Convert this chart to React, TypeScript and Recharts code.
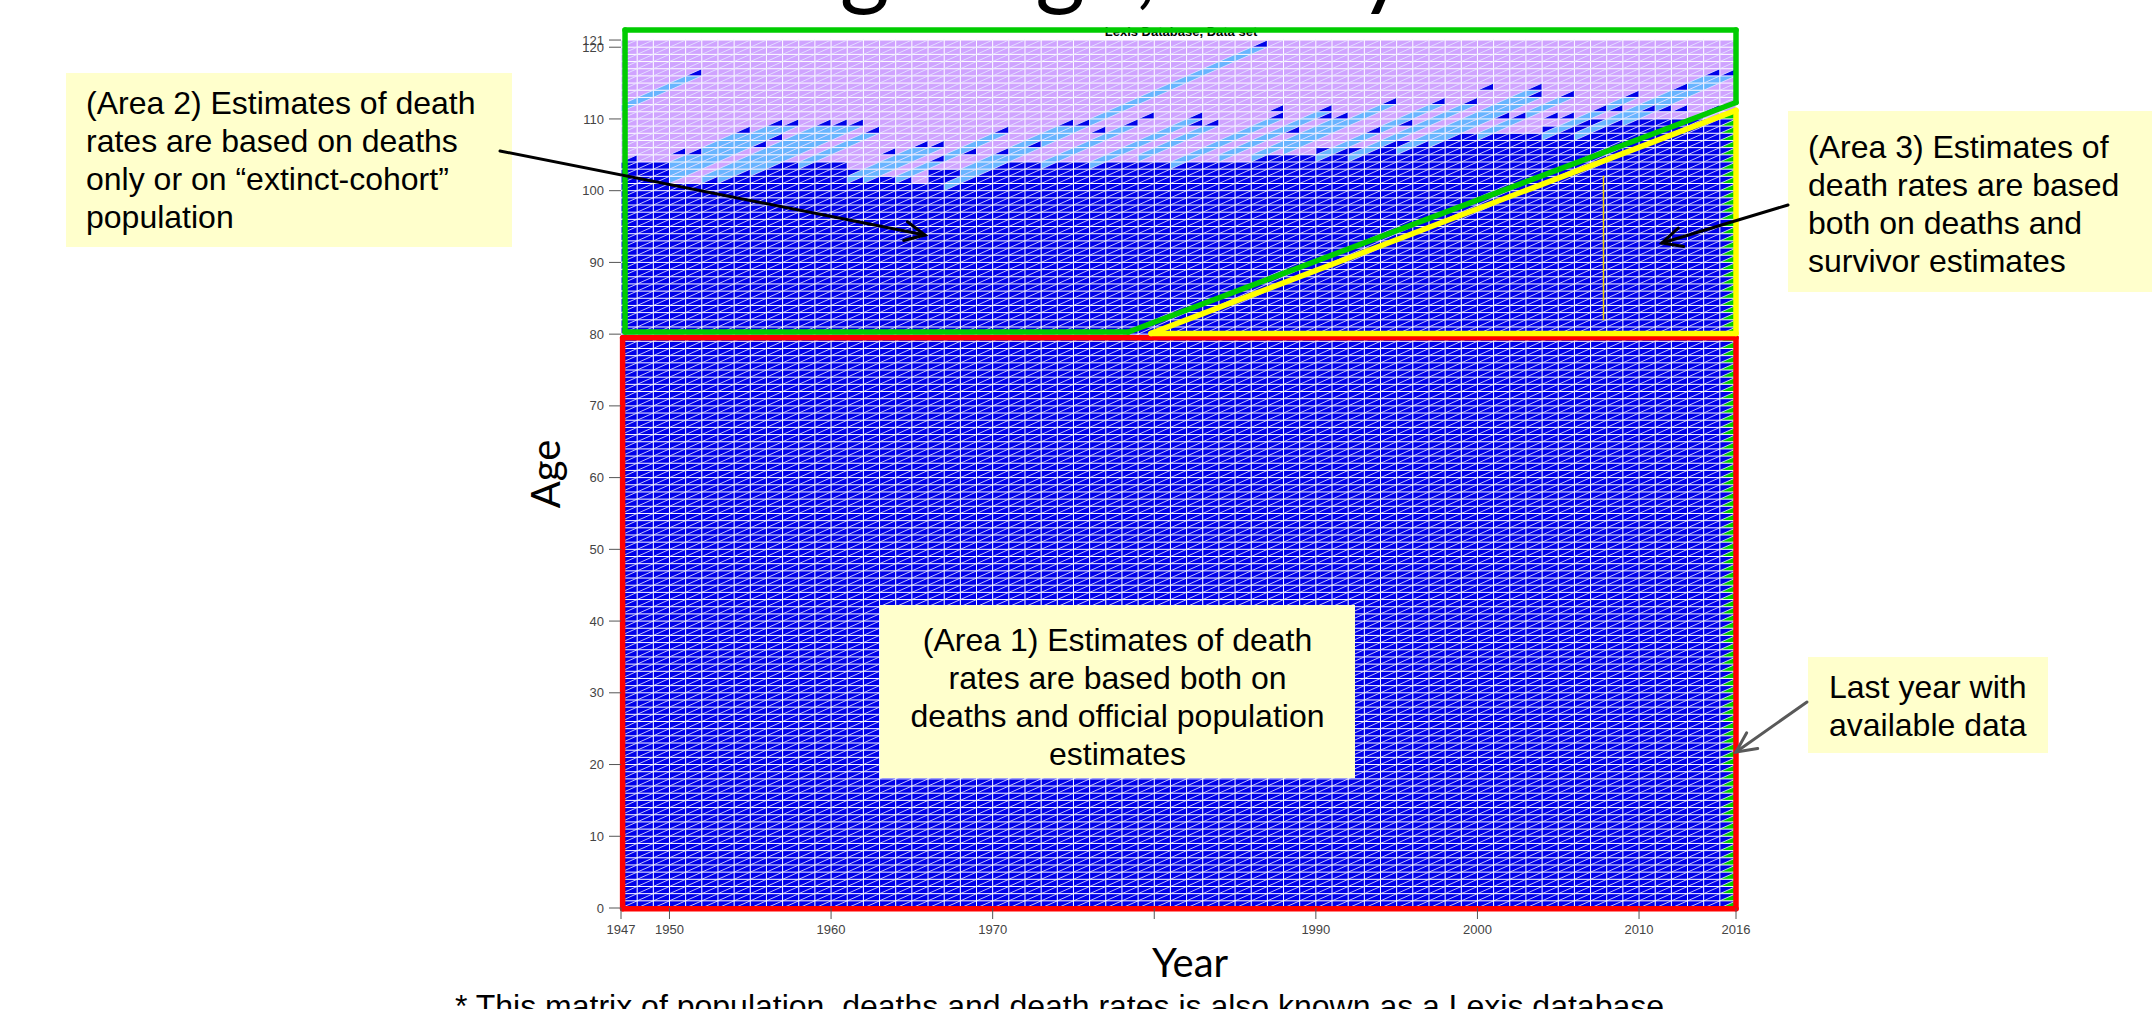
import React from "react";
import { ComposedChart, XAxis, YAxis, ReferenceArea, ReferenceLine } from "recharts";

// Lexis grid: one column per calendar year, one row per age
const FIRST_YEAR = 1947;
const END_YEAR = 2016; // right edge of the last (2015) column
const TOP_AGE = 121;
const Y_MAX = 122.4;

const X_TICKS = [1947, 1950, 1960, 1970, 1980, 1990, 2000, 2010, 2016];
const HIDDEN_X_LABELS = [1980];
const Y_TICKS = [0, 10, 20, 30, 40, 50, 60, 70, 80, 90, 100, 110, 120, 121];

// first age above the solid blue block, years 1947..2015
const BLUE_TOP = [
  104, 104, 104,
  101, 101, 102,
  103, 103, 103, 104, 104, 104, 104, 104, 103,
  102, 102, 102, 101,
  103, 103, 103, 104, 104, 104, 104, 104, 104, 104,
  104, 104, 104, 104, 104,
  104, 104, 104, 104, 104, 105, 105,
  105, 105, 106, 106, 106,
  106, 107, 107, 107, 107,
  108, 108, 108, 108, 108, 108, 109, 109,
  110, 110, 110, 110, 110, 110, 110, 110, 110, 110,
];

// light-blue cohort bands: [first year, age in first year, last year]
// (the band's last lower triangle is dark blue)
const LIGHT_BANDS = [
  [1947, 111, 1951],
  [1950, 101, 1957],
  [1950, 102, 1956],
  [1950, 103, 1954],
  [1952, 101, 1959],
  [1953, 101, 1960],
  [1955, 102, 1961],
  [1958, 103, 1962],
  [1961, 101, 1965],
  [1962, 101, 1966],
  [1964, 101, 1970],
  [1967, 100, 1986],
  [1968, 102, 1974],
  [1970, 103, 1975],
  [1973, 103, 1978],
  [1976, 103, 1982],
  [1979, 104, 1983],
  [1981, 103, 1987],
  [1984, 104, 1990],
  [1986, 104, 1991],
  [1988, 105, 1994],
  [1990, 104, 1997],
  [1992, 104, 1999],
  [1995, 105, 2003],
  [1997, 106, 2003],
  [2000, 107, 2005],
  [2004, 107, 2009],
  [2006, 107, 2014],
  [2007, 108, 2012],
  [2009, 109, 2015],
];

// extra dark-blue lower triangles above the solid block: [year, age]
const DARK_CELLS = [
  [1947, 104], [1950, 105], [1951, 105], [1955, 106], [1956, 107],
  [1963, 105], [1966, 104], [1968, 105], [1970, 105], [1972, 106],
  [1976, 108], [1979, 110], [1982, 109], [1987, 111], [1988, 108],
  [1990, 110], [1993, 108], [1995, 109], [2000, 114], [2001, 110],
  [2002, 110], [2004, 110], [2005, 110], [2007, 111], [2008, 111],
  [2010, 111], [2011, 111], [2012, 111], [2013, 110], [2014, 111],
];

// last year with data: green lower triangles up to this age
const LAST_COLUMN_TOP = 111;

// hand-drawn frames (data coordinates)
const RED_FRAME = [[1947.1, -0.1], [1947.1, 79.5], [2016, 79.5], [2016, -0.1]];
const GREEN_FRAME = [[1947.25, 80.3], [1947.25, 122.4], [2016, 122.4], [2016, 112.3], [1978.4, 80.3]];
const YELLOW_FRAME = [[1979.8, 80.1], [2016, 111.2], [2016, 80.1]];
const THIN_MARK = [[2007.8, 82], [2007.8, 102]];

const BLUE = "#0000e8";
const PINK = "#cfa3ff";
const LIGHT = "#68b4ff";
const GREEN = "#00cc00";

const ARROWS = [
  { from: [500, 151], to: [925, 235], color: "#000" },
  { from: [1788, 205], to: [1662, 243], color: "#000" },
  { from: [1807, 702], to: [1736, 752], color: "#595959" },
];

const tri = (kind: "ul" | "lr", fill: string) => (p: any) => {
  const { x, y, width: w, height: h } = p;
  const pts =
    kind === "lr"
      ? `${x},${y + h} ${x + w},${y + h} ${x + w},${y}`
      : `${x},${y + h} ${x},${y} ${x + w},${y}`;
  return <polygon points={pts} fill={fill} />;
};

function frame(points: number[][], color: string, width: number, closed: boolean, key: string) {
  const segs = [];
  const n = closed ? points.length : points.length - 1;
  for (let i = 0; i < n; i++) {
    const a = points[i];
    const b = points[(i + 1) % points.length];
    segs.push(
      <ReferenceLine
        key={`${key}-${i}`}
        segment={[{ x: a[0], y: a[1] }, { x: b[0], y: b[1] }]}
        stroke={color}
        strokeWidth={width}
        strokeLinecap="round"
        ifOverflow="visible"
      />
    );
  }
  return segs;
}

const boxStyle: React.CSSProperties = {
  position: "absolute",
  background: "#ffffcc",
  fontFamily: "'Liberation Sans', Arial, sans-serif",
  fontSize: 32,
  lineHeight: "38px",
  color: "#000",
  boxSizing: "border-box",
  whiteSpace: "nowrap",
};

export default function App() {
  const years: number[] = [];
  for (let y = FIRST_YEAR; y < END_YEAR; y++) years.push(y);

  const fills = years.flatMap((yr, i) => [
    <ReferenceArea key={`b${yr}`} x1={yr} x2={yr + 1} y1={0} y2={BLUE_TOP[i]} fill={BLUE} fillOpacity={1} stroke="none" />,
    <ReferenceArea key={`p${yr}`} x1={yr} x2={yr + 1} y1={BLUE_TOP[i]} y2={TOP_AGE} fill={PINK} fillOpacity={1} stroke="none" />,
  ]);

  const bands = LIGHT_BANDS.flatMap(([y0, a0, y1], bi) => {
    const out = [];
    for (let yr = y0; yr <= y1; yr++) {
      const a = a0 + (yr - y0);
      out.push(
        <ReferenceArea key={`lu${bi}-${yr}`} x1={yr} x2={yr + 1} y1={a} y2={a + 1} shape={tri("ul", LIGHT)} />
      );
      out.push(
        <ReferenceArea key={`ll${bi}-${yr}`} x1={yr} x2={yr + 1} y1={a + 1} y2={a + 2} shape={tri("lr", yr === y1 ? BLUE : LIGHT)} />
      );
    }
    return out;
  });

  const darks = DARK_CELLS.map(([yr, a]) => (
    <ReferenceArea key={`d${yr}-${a}`} x1={yr} x2={yr + 1} y1={a} y2={a + 1} shape={tri("lr", BLUE)} />
  ));

  const lastCol = [];
  for (let a = 0; a < LAST_COLUMN_TOP; a++) {
    lastCol.push(
      <ReferenceArea key={`g${a}`} x1={END_YEAR - 1} x2={END_YEAR} y1={a} y2={a + 1} shape={tri("lr", GREEN)} />
    );
  }

  const vLines = [];
  for (let yr = FIRST_YEAR; yr <= END_YEAR; yr++) {
    vLines.push(
      <ReferenceLine key={`v${yr}`} segment={[{ x: yr, y: 0 }, { x: yr, y: TOP_AGE }]} stroke="#fff" strokeWidth={1} ifOverflow="visible" />
    );
  }
  const hLines = [];
  for (let a = 0; a <= TOP_AGE; a++) {
    hLines.push(
      <ReferenceLine key={`h${a}`} segment={[{ x: FIRST_YEAR, y: a }, { x: END_YEAR, y: a }]} stroke="#fff" strokeWidth={1} ifOverflow="visible" />
    );
  }
  // cohort diagonals (age - year constant) through every cell
  const diags = [];
  for (let c = FIRST_YEAR - TOP_AGE; c < END_YEAR; c++) {
    const s = Math.max(FIRST_YEAR, c);
    const e = Math.min(END_YEAR, c + TOP_AGE);
    if (e <= s) continue;
    diags.push(
      <ReferenceLine key={`c${c}`} segment={[{ x: s, y: s - c }, { x: e, y: e - c }]} stroke="#e6e6ff" strokeOpacity={0.85} strokeWidth={1} ifOverflow="visible" />
    );
  }

  return (
    <div style={{ position: "absolute", left: 0, top: 0, width: 2152, height: 1009, overflow: "hidden", background: "#fff" }}>
      {/* back layer: clipped slide title and plot subtitle */}
      <svg width={2152} height={1009} style={{ position: "absolute", left: 0, top: 0 }}>
        <text x={352} y={-3} fontFamily="Lato, sans-serif" fontSize={96} fill="#000">
          Data for single age, and year
        </text>
        <text x={1181} y={36} textAnchor="middle" fontFamily="'Liberation Sans', Arial" fontWeight="bold" fontSize={13} fill="#000">
          Lexis Database, Data set
        </text>
      </svg>

      <div style={{ position: "absolute", left: 0, top: 0 }}>
        <ComposedChart width={2152} height={1009} data={[]} margin={{ top: 30, right: 416, bottom: 61, left: 561 }}>
          <XAxis
            type="number"
            dataKey="x"
            domain={[FIRST_YEAR, END_YEAR]}
            allowDataOverflow
            ticks={X_TICKS}
            interval={0}
            height={40}
            axisLine={false}
            tickSize={11}
            tickMargin={6}
            tickLine={{ stroke: "#555" }}
            tick={{ fill: "#444", fontSize: 13, fontFamily: "'Liberation Sans', Arial" }}
            tickFormatter={(v: number) => (HIDDEN_X_LABELS.includes(v) ? "" : String(v))}
          />
          <YAxis
            type="number"
            dataKey="y"
            domain={[0, Y_MAX]}
            allowDataOverflow
            ticks={Y_TICKS}
            interval={0}
            width={60}
            axisLine={false}
            tickSize={12}
            tickMargin={5}
            tickLine={{ stroke: "#555" }}
            tick={{ fill: "#444", fontSize: 13, fontFamily: "'Liberation Sans', Arial" }}
          />
          {fills}
          {bands}
          {darks}
          {lastCol}
          {vLines}
          {hLines}
          {diags}
          {frame(THIN_MARK, "#f2d200", 1.5, false, "thin")}
          {frame(RED_FRAME, "#ff0000", 5.5, true, "red")}
          {frame(GREEN_FRAME, GREEN, 5.5, true, "green")}
          {frame(YELLOW_FRAME, "#ffff00", 5.5, true, "yellow")}
        </ComposedChart>
      </div>

      {/* axis titles and footnote */}
      <div style={{ position: "absolute", left: 1190, top: 940, transform: "translateX(-50%)", fontFamily: "Lato, sans-serif", fontSize: 40, lineHeight: "44px" }}>
        Year
      </div>
      <div style={{ position: "absolute", left: 545, top: 474, transform: "translate(-50%, -50%) rotate(-90deg)", fontFamily: "Lato, sans-serif", fontSize: 40, lineHeight: "44px" }}>
        Age
      </div>
      <div style={{ position: "absolute", left: 455, top: 987, fontFamily: "'Liberation Sans', Arial, sans-serif", fontSize: 32, lineHeight: "38px", whiteSpace: "nowrap" }}>
        * This matrix of population, deaths and death rates is also known as a Lexis database
      </div>

      {/* annotation boxes */}
      <div style={{ ...boxStyle, left: 66, top: 73, width: 446, height: 174, padding: "11px 0 0 20px" }}>
        (Area 2) Estimates of death<br />rates are based on deaths<br />only or on “extinct-cohort”<br />population
      </div>
      <div style={{ ...boxStyle, left: 1788, top: 111, width: 420, height: 181, padding: "17px 0 0 20px" }}>
        (Area 3) Estimates of<br />death rates are based<br />both on deaths and<br />survivor estimates
      </div>
      <div style={{ ...boxStyle, left: 880, top: 605, width: 475, height: 173, padding: "16px 0 0 0", textAlign: "center" }}>
        (Area 1) Estimates of death<br />rates are based both on<br />deaths and official population<br />estimates
      </div>
      <div style={{ ...boxStyle, left: 1808, top: 657, width: 240, height: 96, padding: "11px 0 0 21px" }}>
        Last year with<br />available data
      </div>

      {/* arrows */}
      <svg width={2152} height={1009} style={{ position: "absolute", left: 0, top: 0, pointerEvents: "none" }}>
        {ARROWS.map((a, i) => {
          const [x0, y0] = a.from;
          const [x1, y1] = a.to;
          const len = Math.hypot(x1 - x0, y1 - y0);
          const dx = (x1 - x0) / len;
          const dy = (y1 - y0) / len;
          const L = 22;
          const th = 0.45;
          const w1 = [x1 - L * (dx * Math.cos(th) - dy * Math.sin(th)), y1 - L * (dy * Math.cos(th) + dx * Math.sin(th))];
          const w2 = [x1 - L * (dx * Math.cos(th) + dy * Math.sin(th)), y1 - L * (dy * Math.cos(th) - dx * Math.sin(th))];
          return (
            <g key={i} stroke={a.color} strokeWidth={3} fill="none" strokeLinecap="round">
              <line x1={x0} y1={y0} x2={x1} y2={y1} />
              <polyline points={`${w1[0]},${w1[1]} ${x1},${y1} ${w2[0]},${w2[1]}`} />
            </g>
          );
        })}
      </svg>
    </div>
  );
}
